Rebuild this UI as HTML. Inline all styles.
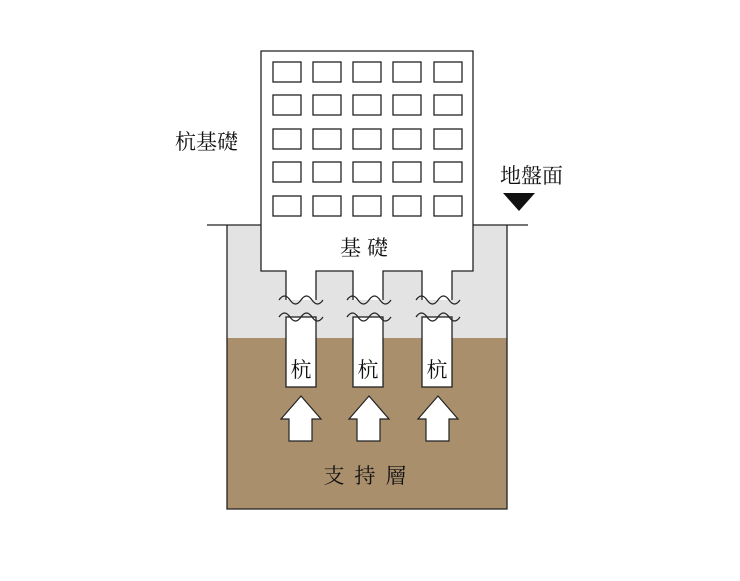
<!DOCTYPE html>
<html><head><meta charset="utf-8"><style>body{margin:0;background:#fff}</style></head><body>
<svg width="740" height="576" viewBox="0 0 740 576" xmlns="http://www.w3.org/2000/svg" font-family="'Liberation Serif','Noto Serif CJK SC',serif">
<rect x="227" y="225" width="280" height="113" fill="#e3e3e3"/>
<rect x="227" y="338" width="280" height="171" fill="#a98f6c"/>
<path d="M227 225 V509 H507 V225" fill="none" stroke="#222" stroke-width="1.3"/>
<line x1="207" y1="225" x2="528" y2="225" stroke="#222" stroke-width="1.3"/>
<path d="M286 300 V271 H261 V51 H473 V271 H452 V300 H422 V271 H383 V300 H353 V271 H316 V300 Z" fill="#fff" stroke="none"/>
<path d="M286 300 V271 H261 V51 H473 V271 H452 V300 M422 300 V271 H383 V300 M353 300 V271 H316 V300" fill="none" stroke="#222" stroke-width="1.3"/>
<g fill="#fff" stroke="#222" stroke-width="1.3">
<g id="r"><rect x="273" y="62" width="28" height="20"/><rect x="313" y="62" width="28" height="20"/><rect x="353" y="62" width="28" height="20"/><rect x="393" y="62" width="28" height="20"/><rect x="434" y="62" width="28" height="20"/></g>
<use href="#r" y="33"/><use href="#r" y="67"/><use href="#r" y="100"/><use href="#r" y="134"/>
<rect x="286" y="317" width="30" height="70"/>
<rect x="353" y="317" width="30" height="70"/>
<rect x="422" y="317" width="30" height="70"/>
</g>
<g fill="none" stroke="#222" stroke-width="1.2">
<g id="w"><path d="M279 300 q5.5 -8 11 0 t11 0 t11 0 t11 0"/><path d="M279 317 q5.5 -8 11 0 t11 0 t11 0 t11 0" /></g>
<use href="#w" x="68"/><use href="#w" x="137"/>
</g>
<g fill="#fff" stroke="#222" stroke-width="1.2">
<path id="a" d="M301 396 L321 419 H312 V441 H289 V419 H281 Z"/>
<use href="#a" x="68"/><use href="#a" x="137"/>
</g>
<path d="M503 193 H535 L519 211 Z" fill="#111"/>
<g fill="#111" font-size="21">
<text x="175" y="149">杭基礎</text>
<text x="500" y="183">地盤面</text>
<text x="367" y="255" text-anchor="middle" letter-spacing="6">基礎</text>
<text x="301" y="377" text-anchor="middle">杭</text>
<text x="368" y="377" text-anchor="middle">杭</text>
<text x="437" y="377" text-anchor="middle">杭</text>
<text x="370" y="483" text-anchor="middle" letter-spacing="10">支持層</text>
</g>
</svg>
</body></html>
